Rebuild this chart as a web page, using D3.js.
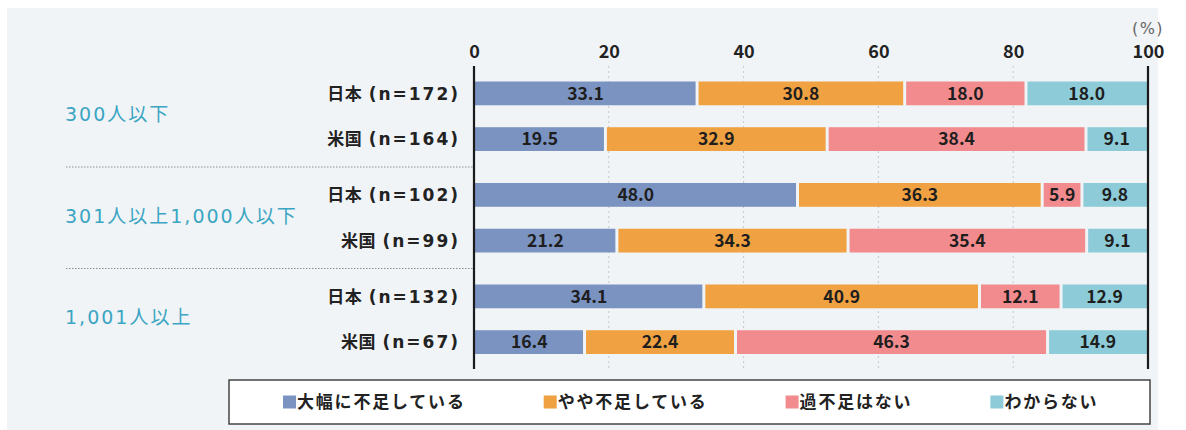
<!DOCTYPE html>
<html>
<head>
<meta charset="utf-8">
<script src="https://cdn.jsdelivr.net/npm/d3@7"></script>
<style>
  body { margin: 0; background: #fff; }
  svg { display: block; font-family: "Noto Sans CJK JP", "Noto Sans", sans-serif; }
</style>
</head>
<body>
<div id="chart"></div>
<script>
const width = 1186;
const height = 430;
const wideFont = "\"DejaVu Sans\", \"Noto Sans CJK JP\", sans-serif";

// data
const groups = ["300人以下", "301人以上1,000人以下", "1,001人以上"];
const countries = ["日本", "米国"];
const sampleSizes = ["(n=172)", "(n=164)", "(n=102)", "(n=99)", "(n=132)", "(n=67)"];
const categories = ["大幅に不足している", "やや不足している", "過不足はない", "わからない"];
const severe = [33.1, 19.5, 48.0, 21.2, 34.1, 16.4];
const slight = [30.8, 32.9, 36.3, 34.3, 40.9, 22.4];
const none = [18.0, 38.4, 5.9, 35.4, 12.1, 46.3];
const unknown = [18.0, 9.1, 9.8, 9.1, 12.9, 14.9];
const ticks = [0, 20, 40, 60, 80, 100];
const colors = ["#7a93c1", "#f0a141", "#f28b8e", "#8ccbd7"];

const series = [severe, slight, none, unknown];

// build rows
const rows = sampleSizes.map((n, i) => {
  let x0 = 0;
  const segs = series.map((s, k) => {
    const seg = {k, v: s[i], x0, x1: x0 + s[i]};
    x0 += s[i];
    return seg;
  });
  return {n, group: groups[Math.floor(i / 2)], country: countries[i % 2], segs};
});

const svg = d3.select("#chart").append("svg")
  .attr("width", width)
  .attr("height", height);

// panel background
svg.append("rect")
  .attr("x", 7).attr("y", 8)
  .attr("width", 1151).attr("height", height - 8)
  .attr("fill", "#f1f4f7");

const x = d3.scaleLinear().domain([0, 100]).range([474, 1148]);

const yGroup = d3.scaleBand().domain(groups).range([65.5, 370]);
const yInner = d3.scaleBand().domain(countries)
  .range([0, yGroup.bandwidth()])
  .paddingInner(0.48)
  .paddingOuter(0.35);

const rowY = d => yGroup(d.group) + yInner(d.country);
const barH = yInner.bandwidth();

// dotted grid lines
svg.append("g")
  .selectAll("line")
  .data(ticks.filter(t => t > 0 && t < 100))
  .join("line")
  .attr("x1", d => x(d)).attr("x2", d => x(d))
  .attr("y1", 66).attr("y2", 368)
  .attr("stroke", "#c4c8cc")
  .attr("stroke-width", 1)
  .attr("stroke-dasharray", "2,3");

// group separators
svg.append("g")
  .selectAll("line")
  .data(groups.slice(1))
  .join("line")
  .attr("x1", 66).attr("x2", x(0))
  .attr("y1", d => yGroup(d)).attr("y2", d => yGroup(d))
  .attr("stroke", "#8a8f94")
  .attr("stroke-width", 1.2)
  .attr("stroke-dasharray", "1.5,1.5");

// bars
const rowG = svg.append("g")
  .selectAll("g")
  .data(rows)
  .join("g")
  .attr("transform", d => `translate(0,${rowY(d)})`);

rowG.selectAll("rect")
  .data(d => d.segs)
  .join("rect")
  .attr("x", d => x(d.x0) + (d.k > 0 ? 1.5 : 0))
  .attr("width", d => x(d.x1) - x(d.x0) - (d.k > 0 ? 1.5 : 0) - (d.k < 3 ? 1.5 : 0))
  .attr("height", barH)
  .attr("fill", d => colors[d.k]);

rowG.selectAll("text")
  .data(d => d.segs)
  .join("text")
  .attr("x", d => x((d.x0 + d.x1) / 2))
  .attr("y", barH / 2)
  .attr("dy", "0.36em")
  .attr("text-anchor", "middle")
  .attr("font-size", 17.5)
  .attr("font-weight", "bold")
  .attr("fill", "#1e1e1e")
  .text(d => d.v.toFixed(1));

// row labels: country name tight, sample size spaced out
const rowLabel = svg.append("g")
  .selectAll("text")
  .data(rows)
  .join("text")
  .attr("x", 460)
  .attr("y", d => rowY(d) + barH / 2)
  .attr("dy", "0.36em")
  .attr("text-anchor", "end")
  .attr("font-family", wideFont)
  .attr("font-size", 17)
  .attr("font-weight", "bold")
  .attr("fill", "#222");
rowLabel.append("tspan")
  .attr("letter-spacing", 0.5)
  .text(d => d.country + " ");
rowLabel.append("tspan")
  .attr("letter-spacing", 2)
  .text(d => d.n);

// group labels
svg.append("g")
  .selectAll("text")
  .data(groups)
  .join("text")
  .attr("x", 65)
  .attr("y", d => yGroup(d) + yGroup.bandwidth() / 2 - 2)
  .attr("dy", "0.36em")
  .attr("font-family", wideFont)
  .attr("font-size", 19)
  .attr("letter-spacing", 2)
  .attr("fill", "#3ba5c3")
  .text(d => d);

// top axis
const axis = svg.append("g")
  .attr("transform", "translate(0,52)")
  .call(d3.axisTop(x).tickValues(ticks).tickSize(0).tickPadding(0));
axis.select(".domain").remove();
axis.selectAll("text")
  .attr("dy", "0.36em")
  .attr("font-size", 18)
  .attr("font-weight", "bold")
  .attr("font-family", "\"Noto Sans CJK JP\", sans-serif")
  .attr("fill", "#222");

svg.append("text")
  .attr("x", x(100))
  .attr("y", 28)
  .attr("dy", "0.36em")
  .attr("text-anchor", "middle")
  .attr("font-family", wideFont)
  .attr("font-size", 16)
  .attr("letter-spacing", 1.5)
  .attr("fill", "#666")
  .text("(%)");

// vertical axis lines at 0 and 100
svg.append("g")
  .selectAll("line")
  .data([0, 100])
  .join("line")
  .attr("x1", d => x(d)).attr("x2", d => x(d))
  .attr("y1", 66).attr("y2", 369)
  .attr("stroke", "#1a1a1a")
  .attr("stroke-width", 2.2);

// legend
svg.append("rect")
  .attr("x", 229).attr("y", 380)
  .attr("width", 921).attr("height", 44)
  .attr("fill", "#fff")
  .attr("stroke", "#444")
  .attr("stroke-width", 1.5);

const legend = svg.append("g").attr("transform", "translate(283,402)");
let lx = 0;
categories.forEach((c, i) => {
  const item = legend.append("g").attr("transform", `translate(${lx},0)`);
  item.append("rect")
    .attr("x", 0).attr("y", -6.5)
    .attr("width", 13).attr("height", 13)
    .attr("fill", colors[i]);
  const t = item.append("text")
    .attr("x", 14)
    .attr("dy", "0.36em")
    .attr("font-size", 17)
    .attr("font-weight", "bold")
    .attr("letter-spacing", 1.8)
    .attr("fill", "#222")
    .text(c);
  lx += 14 + t.node().getComputedTextLength() + 78;
});
</script>
</body>
</html>
